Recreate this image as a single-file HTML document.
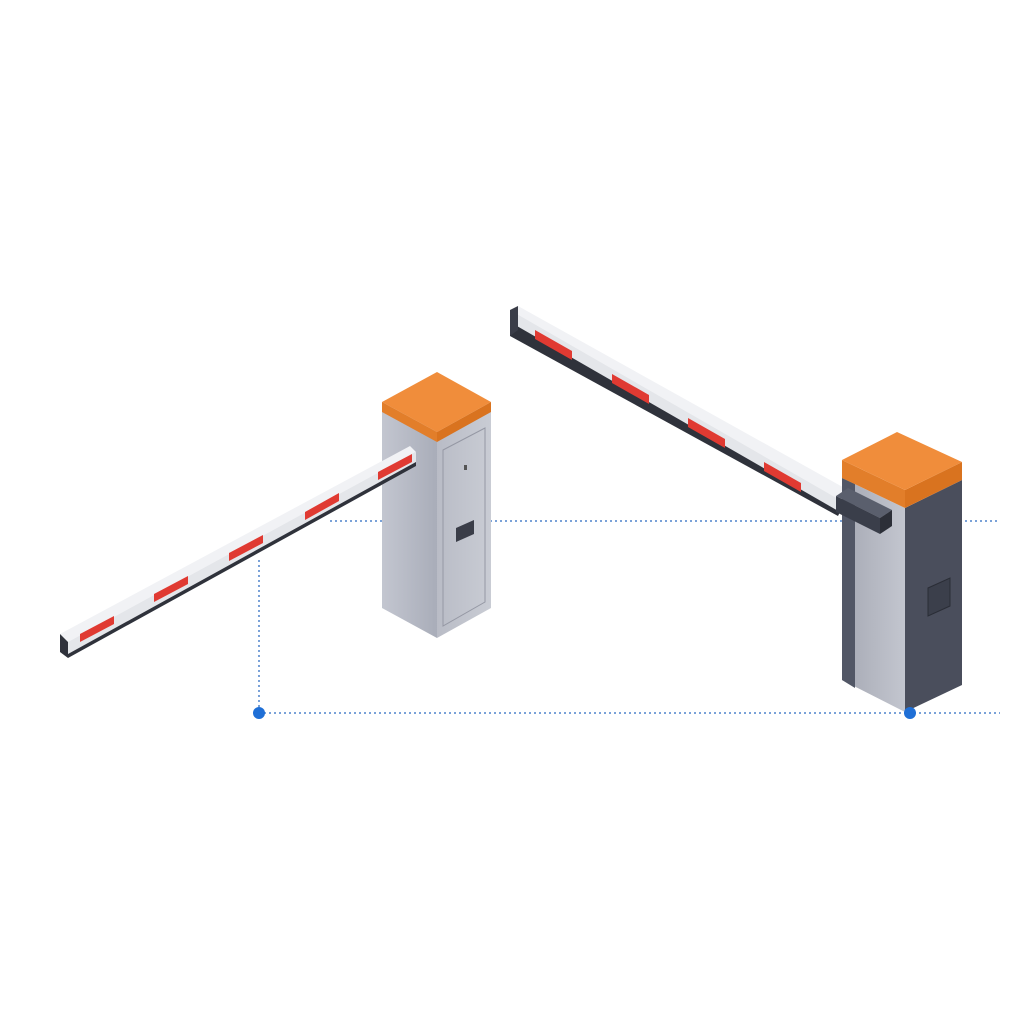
<!DOCTYPE html>
<html><head><style>html,body{margin:0;padding:0;background:#fff}svg{display:block}</style></head>
<body>
<svg width="1024" height="1024" viewBox="0 0 1024 1024" xmlns="http://www.w3.org/2000/svg">
<defs>
<linearGradient id="gl" x1="0" y1="0" x2="1" y2="0"><stop offset="0" stop-color="#c3c6d0"/><stop offset="1" stop-color="#a9adb9"/></linearGradient>
<linearGradient id="gr" x1="0" y1="0" x2="1" y2="0"><stop offset="0" stop-color="#b9bcc6"/><stop offset="1" stop-color="#c9ccd4"/></linearGradient>
<linearGradient id="rl" x1="0" y1="0" x2="1" y2="0"><stop offset="0" stop-color="#a6a9b4"/><stop offset="1" stop-color="#c3c6cf"/></linearGradient>
</defs>
<g stroke="#4f84cc" stroke-width="1.5" stroke-dasharray="2 3" fill="none">
<line x1="330" y1="521" x2="1000" y2="521"/>
<line x1="259" y1="713" x2="1000" y2="713"/>
<line x1="259" y1="560" x2="259" y2="713"/>
</g>
<!-- left post -->
<polygon points="382,402 437,432 437,638 382,608" fill="url(#gl)"/>
<polygon points="437,432 491,402 491,608 437,638" fill="url(#gr)"/>
<polygon points="443,450 485,428 485,602 443,626" fill="none" stroke="#9598a4" stroke-width="1"/>
<rect x="464" y="465" width="3" height="5" fill="#555"/>
<polygon points="456,528 474,520 474,534 456,542" fill="#3a3d48"/>
<polygon points="382,402 437,432 437,442 382,412" fill="#e27e2a"/>
<polygon points="437,432 491,402 491,412 437,442" fill="#d9731f"/>
<polygon points="382,402 437,372 491,402 437,432" fill="#f08d3b"/>
<!-- left beam -->
<polygon points="410,446 416,452 68,642 60,634" fill="#f1f2f5"/>
<polygon points="416,452 416,462 68,654 68,642" fill="#e4e6ea"/>
<polygon points="416,462 68,654 68,658 416,466" fill="#2f323b"/>
<polygon points="60,634 68,642 68,658 60,652" fill="#2f323b"/>
<g fill="#e03a32">
<polygon points="378,472 412,454 412,462 378,480"/>
<polygon points="305,512 339,493 339,501 305,520"/>
<polygon points="229,553 263,535 263,543 229,561"/>
<polygon points="154,594 188,576 188,584 154,602"/>
<polygon points="80,634 114,616 114,624 80,642"/>
</g>
<!-- right beam -->
<polygon points="510,310 518,306 848,490 840,500" fill="#f1f2f5"/>
<polygon points="510,310 840,500 840,512 510,322" fill="#e4e6ea"/>
<polygon points="510,322 840,512 838,516 510,336" fill="#2f323b"/>
<polygon points="510,310 518,306 518,330 510,336" fill="#3a3d48"/>
<g fill="#e03a32">
<polygon points="535,330 572,351 572,360 535,339"/>
<polygon points="612,374 649,395 649,404 612,383"/>
<polygon points="688,418 725,439 725,448 688,427"/>
<polygon points="764,462 801,483 801,492 764,471"/>
</g>
<!-- right post -->
<polygon points="842,478 905,508 905,712 842,680" fill="url(#rl)"/>
<polygon points="842,478 855,484 855,688 842,680" fill="#525766"/>
<polygon points="905,508 962,480 962,685 905,712" fill="#4a4e5c"/>
<polygon points="928,588 950,578 950,606 928,616" fill="#3b3f4b" stroke="#2a2d36"/>
<polygon points="842,460 905,490 905,508 842,478" fill="#e27e2a"/>
<polygon points="905,490 962,462 962,480 905,508" fill="#d9731f"/>
<polygon points="842,460 897,432 962,462 905,490" fill="#f08d3b"/>
<!-- bracket -->
<polygon points="836,496 848,488 892,510 880,518" fill="#5a5f6d"/>
<polygon points="836,496 880,518 880,534 836,512" fill="#3a3e4a"/>
<polygon points="880,518 892,510 892,526 880,534" fill="#2c2f38"/>
<circle cx="259" cy="713" r="6" fill="#1f6fd6"/>
<circle cx="910" cy="713" r="6" fill="#1f6fd6"/>
</svg>
</body></html>
